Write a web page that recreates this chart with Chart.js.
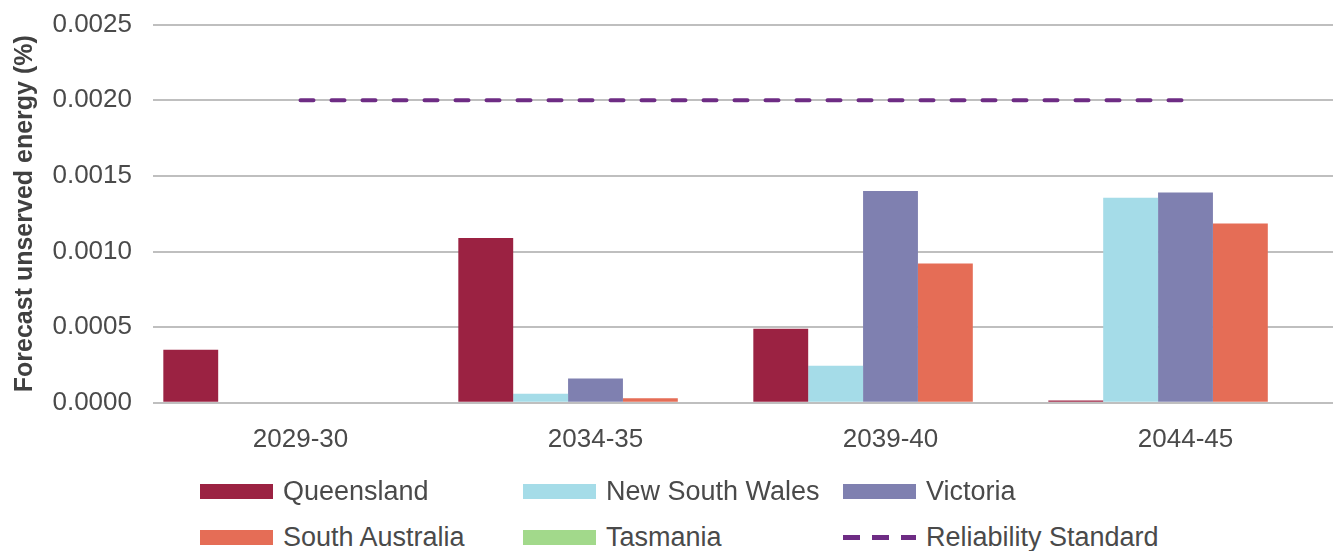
<!DOCTYPE html>
<html>
<head>
<meta charset="utf-8">
<script src="https://cdn.jsdelivr.net/npm/chart.js@4.4.1/dist/chart.umd.min.js"></script>
<style>
  body { margin: 0; background: #fff; font-family: "Liberation Sans", Arial, sans-serif; }
  #wrap { position: relative; width: 1333px; height: 551px; overflow: hidden; }
  #chartBox { position: absolute; left: 0; top: -12px; width: 1333px; height: 488px; }
  #legend { position: absolute; left: 200px; top: 474px; width: 1100px; }
  .item { position: absolute; display: flex; align-items: center; height: 34px; font-size: 27px; color: #4a4a4a; white-space: nowrap; }
  .sw { width: 73px; height: 15px; margin-right: 10px; flex: none; }
  .dash { height: 5px; background: repeating-linear-gradient(90deg, #6E2C84 0 17px, transparent 17px 29px); }
</style>
</head>
<body>
<div id="wrap">
  <div id="chartBox"><canvas id="useChart"></canvas></div>
  <div id="legend"></div>
</div>
<script>
// Dades llegides del gràfic
const years = ['2029-30', '2034-35', '2039-40', '2044-45'];
const queensland = [0.00035, 0.00109, 0.00049, 0.000015];
const newSouthWales = [0, 0.00006, 0.000245, 0.001355];
const victoria = [0, 0.00016, 0.0014, 0.00139];
const southAustralia = [0, 0.00003, 0.00092, 0.001185];
const tasmania = [0, 0, 0, 0];
const reliabilityStandard = [0.002, 0.002, 0.002, 0.002];
const yTicks = [0, 0.0005, 0.001, 0.0015, 0.002, 0.0025];

const colors = {
  qld: '#9B2242',
  nsw: '#A5DCE8',
  vic: '#7F80B0',
  sa: '#E56D56',
  tas: '#A2D98B',
  rel: '#6E2C84'
};

function bar(label, data, color) {
  return { type: 'bar', label, data, backgroundColor: color, borderWidth: 0, order: 2 };
}

function drawChart() {
  const ctx = document.getElementById('useChart').getContext('2d');
  new Chart(ctx, {
    data: {
      labels: years,
      datasets: [
        bar('Queensland', queensland, colors.qld),
        bar('New South Wales', newSouthWales, colors.nsw),
        bar('Victoria', victoria, colors.vic),
        bar('South Australia', southAustralia, colors.sa),
        bar('Tasmania', tasmania, colors.tas),
        {
          type: 'line',
          label: 'Reliability Standard',
          data: reliabilityStandard,
          borderColor: colors.rel,
          borderWidth: 4,
          borderDash: [13, 18],
          borderCapStyle: 'round',
          pointRadius: 0,
          fill: false,
          order: 1
        }
      ]
    },
    options: {
      responsive: true,
      maintainAspectRatio: false,
      animation: false,
      layout: { padding: { top: 8, right: 0, left: 10, bottom: 0 } },
      datasets: { bar: { categoryPercentage: 0.93, barPercentage: 1 } },
      scales: {
        x: {
          grid: { display: false, drawTicks: false },
          border: { display: false },
          ticks: { color: '#4a4a4a', font: { family: 'Liberation Sans', size: 26 }, padding: 21 }
        },
        y: {
          min: 0,
          max: 0.0025,
          afterBuildTicks: axis => { axis.ticks = yTicks.map(v => ({ value: v })); },
          afterFit: axis => { axis.width = 143; },
          grid: { color: '#BFBFBF', lineWidth: 2, drawTicks: false },
          border: { display: false },
          ticks: {
            color: '#4a4a4a',
            font: { family: 'Liberation Sans', size: 26 },
            padding: 21,
            callback: v => Number(v).toFixed(4)
          },
          title: {
            display: true,
            text: 'Forecast unserved energy (%)',
            color: '#404040',
            font: { family: 'Liberation Sans', size: 25, weight: 'bold' },
            padding: { top: 0, bottom: 0 }
          }
        }
      },
      plugins: {
        legend: { display: false },
        tooltip: { enabled: false }
      }
    }
  });
}

function drawLegend() {
  const items = [
    ['Queensland', colors.qld, 0, 0],
    ['New South Wales', colors.nsw, 323, 0],
    ['Victoria', colors.vic, 643, 0],
    ['South Australia', colors.sa, 0, 46],
    ['Tasmania', colors.tas, 323, 46],
    ['Reliability Standard', null, 643, 46]
  ];
  const box = document.getElementById('legend');
  items.forEach(([label, color, x, y]) => {
    const el = document.createElement('div');
    el.className = 'item';
    el.style.left = x + 'px';
    el.style.top = y + 'px';
    const sw = document.createElement('span');
    sw.className = color ? 'sw' : 'sw dash';
    if (color) sw.style.background = color;
    el.appendChild(sw);
    el.appendChild(document.createTextNode(label));
    box.appendChild(el);
  });
}

document.addEventListener('DOMContentLoaded', () => {
  drawChart();
  drawLegend();
});
</script>
</body>
</html>
